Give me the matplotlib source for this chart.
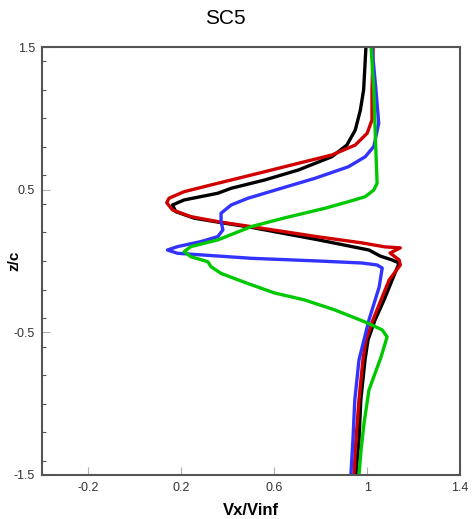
import matplotlib.pyplot as plt
from matplotlib.ticker import MultipleLocator

# values (z/c, Vx/Vinf)
black_z = [1.5, 1.199, 1.058, 0.918, 0.813, 0.731, 0.638, 0.568, 0.510, 0.475, 0.428,
           0.393, 0.346, 0.300, 0.265, 0.236, 0.148, 0.077, 0.035, 0.007, -0.014,
           -0.133, -0.273, -0.414, -0.553, -0.693, -0.974, -1.254, -1.5]
black_v = [0.995, 0.985, 0.971, 0.949, 0.913, 0.848, 0.704, 0.559, 0.415, 0.357, 0.212,
           0.162, 0.176, 0.256, 0.386, 0.501, 0.791, 1.008, 1.056, 1.108, 1.138,
           1.108, 1.073, 1.034, 1.004, 0.991, 0.973, 0.965, 0.952]

red_z = [1.5, 1.199, 0.988, 0.895, 0.813, 0.743, 0.685, 0.626, 0.568, 0.545, 0.486,
         0.440, 0.409, 0.358, 0.311, 0.276, 0.241, 0.169, 0.127, 0.099, 0.092, 0.056,
         0.007, -0.028, -0.133, -0.273, -0.414, -0.553, -0.693, -0.974, -1.254, -1.5]
red_v = [1.026, 1.021, 1.021, 1.000, 0.949, 0.848, 0.704, 0.559, 0.415, 0.357, 0.212,
         0.147, 0.137, 0.162, 0.241, 0.357, 0.501, 0.791, 0.978, 1.077, 1.143, 1.099,
         1.138, 1.143, 1.095, 1.060, 1.025, 0.995, 0.982, 0.965, 0.952, 0.943]

blue_z = [1.5, 1.199, 0.966, 0.803, 0.731, 0.661, 0.580, 0.510, 0.440, 0.393, 0.335,
          0.276, 0.218, 0.171, 0.136, 0.101, 0.077, 0.054, 0.035, 0.019, 0.000,
          -0.014, -0.028, -0.049, -0.182, -0.413, -0.694, -0.974, -1.254, -1.5]
blue_v = [1.021, 1.038, 1.050, 1.029, 0.992, 0.920, 0.776, 0.631, 0.487, 0.415, 0.371,
          0.371, 0.379, 0.357, 0.284, 0.184, 0.140, 0.184, 0.357, 0.501, 0.791,
          0.978, 1.043, 1.065, 1.052, 1.008, 0.965, 0.947, 0.939, 0.930]

green_z = [1.5, 1.199, 0.848, 0.545, 0.498, 0.451, 0.416, 0.370, 0.302, 0.241, 0.148,
           0.101, 0.066, 0.030, -0.005, -0.040, -0.087, -0.122, -0.154, -0.224, -0.273,
           -0.343, -0.427, -0.483, -0.532, -0.673, -0.904, -1.135, -1.324, -1.5]
green_v = [1.017, 1.029, 1.036, 1.043, 1.029, 0.992, 0.920, 0.819, 0.644, 0.501, 0.357,
           0.241, 0.212, 0.241, 0.314, 0.328, 0.371, 0.428, 0.480, 0.601, 0.731,
           0.861, 0.991, 1.065, 1.086, 1.060, 1.008, 0.987, 0.974, 0.965]

xticks = [-0.2, 0.2, 0.6, 1, 1.4]
yticks = [-1.5, -0.5, 0.5, 1.5]

plt.rcParams['font.family'] = ['Liberation Sans', 'DejaVu Sans']

fig = plt.figure(figsize=(4.73, 5.19), dpi=100)
ax = fig.add_axes([0.0888, 0.0848, 0.8837, 0.8246])

ax.plot(black_v, black_z, color='black', lw=2.4)
ax.plot(red_v, red_z, color='#d00000', lw=2.4)
ax.plot(blue_v, blue_z, color='#3333ff', lw=2.4)
ax.plot(green_v, green_z, color='#00c800', lw=2.4)

ax.set_xlim(-0.4, 1.4)
ax.set_ylim(-1.5, 1.5)
ax.set_xticks(xticks)
ax.set_xticklabels(['-0.2', '0.2', '0.6', '1', '1.4'])
ax.set_yticks(yticks)
ax.set_yticklabels(['-1.5', '-0.5', '0.5', '1.5'])
ax.yaxis.set_minor_locator(MultipleLocator(0.2))

ax.tick_params(which='major', direction='in', length=6, width=0.8, color='#b0b0b0',
               labelsize=9, labelcolor='#333333', pad=5)
ax.tick_params(which='minor', direction='in', length=3, width=0.8, color='#555555')
for s in ax.spines.values():
    s.set_color('#555555')
    s.set_linewidth(1.5)

ax.set_xlabel('Vx/Vinf', fontsize=12, fontweight='bold')
ax.xaxis.set_label_coords(0.5, -0.065)
ax.set_ylabel('z/c', fontsize=11, fontweight='bold')
ax.yaxis.set_label_coords(-0.05, 0.5)
fig.text(225 / 473, 1 - 18 / 519, 'SC5', fontsize=15, ha='center', va='center')

fig.savefig('out.png', dpi=100)
